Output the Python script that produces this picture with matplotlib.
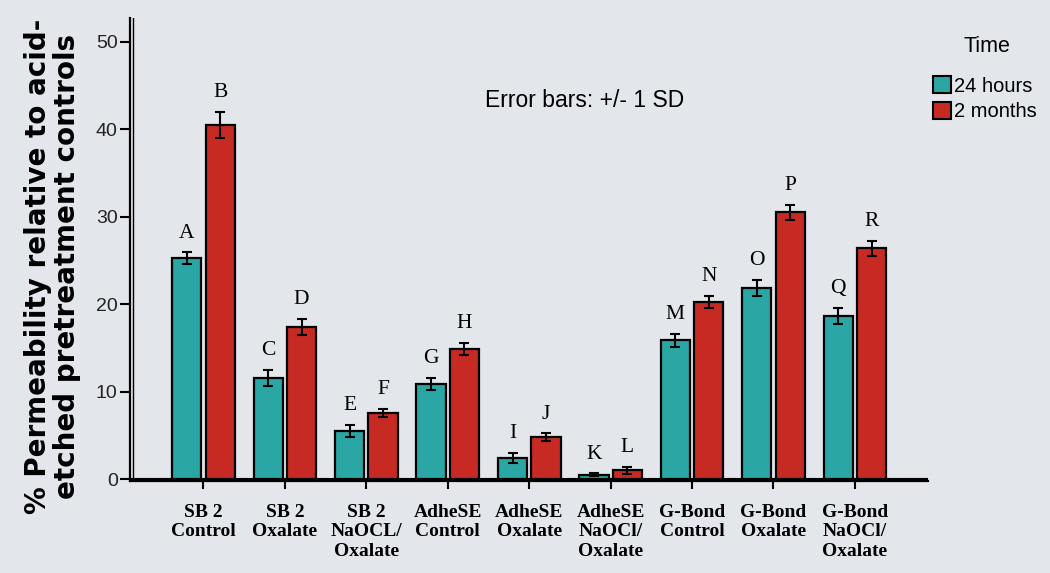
"""
Dentin permeability bar chart: 24 hours vs 2 months per adhesive/pretreatment.
Writes out.png
"""

import matplotlib
matplotlib.use("Agg")
import matplotlib.pyplot as plt
import numpy as np

GROUPS = [
    "SB 2\nControl", "SB 2\nOxalate", "SB 2\nNaOCL/\nOxalate",
    "AdheSE\nControl", "AdheSE\nOxalate", "AdheSE\nNaOCl/\nOxalate",
    "G-Bond\nControl", "G-Bond\nOxalate", "G-Bond\nNaOCl/\nOxalate",
]
H24_MEAN = [25.3, 11.6, 5.5, 10.9, 2.4, 0.5, 15.9, 21.85, 18.65]
H24_SD = [0.65, 0.9, 0.7, 0.7, 0.6, 0.15, 0.75, 0.9, 0.9]
M2_MEAN = [40.5, 17.4, 7.55, 14.9, 4.8, 1.0, 20.25, 30.5, 26.4]
M2_SD = [1.5, 0.9, 0.5, 0.7, 0.45, 0.4, 0.7, 0.9, 0.85]
H24_LETTERS = ["A", "C", "E", "G", "I", "K", "M", "O", "Q"]
M2_LETTERS = ["B", "D", "F", "H", "J", "L", "N", "P", "R"]

BG = "#e3e6eb"
TEAL = "#2aa7a4"
RED = "#c62a22"
SERIF = ["Liberation Serif", "DejaVu Serif"]
SANS = ["Liberation Sans", "DejaVu Sans"]


def main() -> None:
    fig = plt.figure(figsize=(10.5, 5.73), dpi=100, facecolor=BG)
    ax = fig.add_axes([0.124, 0.160, 0.760, 0.808])
    ax.set_facecolor(BG)

    x = np.arange(len(GROUPS))
    width = 0.36
    off = 0.205

    ax.axhline(0, color="black", lw=1.5, zorder=1)
    b1 = ax.bar(x - off, H24_MEAN, width, yerr=H24_SD, color=TEAL,
                edgecolor="black", linewidth=1.6, capsize=3.5,
                error_kw=dict(elinewidth=1.5, capthick=1.5, ecolor="black"),
                zorder=2, label="24 hours")
    b2 = ax.bar(x + off, M2_MEAN, width, yerr=M2_SD, color=RED,
                edgecolor="black", linewidth=1.6, capsize=3.5,
                error_kw=dict(elinewidth=1.5, capthick=1.5, ecolor="black"),
                zorder=2, label="2 months")

    for xs, means, sds, letters in (
        (x - off, H24_MEAN, H24_SD, H24_LETTERS),
        (x + off, M2_MEAN, M2_SD, M2_LETTERS),
    ):
        for xi, m, s, lab in zip(xs, means, sds, letters):
            ax.annotate(lab, (xi, m + s), xytext=(0, 7), textcoords="offset points",
                        ha="center", va="bottom", fontsize=15.5, family=SERIF)

    ax.set_xlim(-0.9, 8.9)
    ax.set_ylim(-0.25, 52.7)
    ax.set_yticks([0, 10, 20, 30, 40, 50])
    ax.set_xticks(x)
    ax.set_xticklabels(GROUPS, family=SERIF, fontweight="bold", fontsize=14,
                       linespacing=1.22)
    ax.tick_params(axis="y", length=7, width=1.5, labelsize=14, pad=2,
                   labelcolor="#222222")
    ax.tick_params(axis="x", length=6, width=1.5, direction="out", pad=10)
    for lab in ax.get_yticklabels():
        lab.set_family(SANS)

    for side in ("top", "right"):
        ax.spines[side].set_visible(False)
    ax.spines["left"].set_linewidth(1.6)
    ax.spines["bottom"].set_linewidth(1.6)
    # doubled axis lines like the original print
    ax.axvline(-0.86, color="black", lw=1.0, zorder=1)

    ax.set_ylabel("% Permeability relative to acid-\netched pretreatment controls",
                  family=["DejaVu Sans"], fontweight="bold", fontsize=20,
                  linespacing=1.02)
    ax.yaxis.set_label_coords(-0.062, 0.465)

    ax.text(0.570, 0.823, "Error bars: +/- 1 SD", transform=ax.transAxes,
            ha="center", va="center", fontsize=16.5, family=SANS)

    fig.text(987 / 1050, 1 - 46 / 573, "Time", ha="center", va="center",
             fontsize=15.5, family=SANS)
    leg = fig.legend(handles=[b1, b2], loc="upper left",
                     bbox_to_anchor=(0.889, 1 - 76 / 573), frameon=False,
                     handlelength=0.85, handleheight=0.95, handletextpad=0.15,
                     labelspacing=0.3, borderaxespad=0, borderpad=0,
                     prop={"family": SANS, "size": 14.5})
    for h in leg.legend_handles:
        h.set_edgecolor("black")
        h.set_linewidth(1.5)

    fig.savefig("out.png", dpi=100, facecolor=BG)
    plt.close(fig)


if __name__ == "__main__":
    main()
